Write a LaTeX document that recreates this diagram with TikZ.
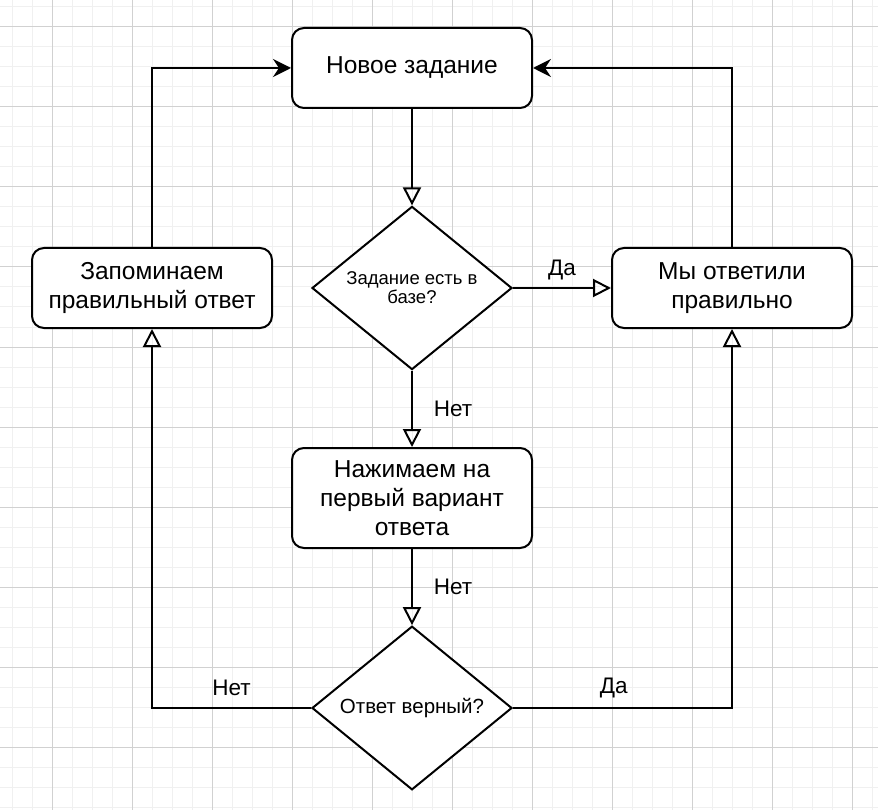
\documentclass[tikz,border=0pt]{standalone}
\usepackage{fontspec}
\setmainfont{Liberation Sans}
\usetikzlibrary{shapes.geometric,arrows.meta}

\begin{document}
\begin{tikzpicture}[x=1pt,y=-1pt,
    minor/.style={draw=black!6, line width=1pt},
    major/.style={draw=black!18, line width=1pt},
    link/.style={draw, line width=2pt, -{Triangle[open, length=18pt, width=18pt]}},
    back/.style={draw, line width=2pt, -{Stealth[length=18pt, width=18pt, inset=6pt]}}]

        \useasboundingbox (0,0) rectangle (878,810);
        \fill[white] (0,0) rectangle (878,810);
        \foreach \x in {12,32,...,872} \draw[minor] (\x,0) -- (\x,810);
        \foreach \y in {7,27,...,807} \draw[minor] (0,\y) -- (878,\y);
        \foreach \x in {52,132,...,852} \draw[major] (\x,0) -- (\x,810);
        \foreach \y in {27,107,...,747} \draw[major] (0,\y) -- (878,\y);

        \begin{scope}[every node/.style={draw, fill=white, line width=2pt, align=center, inner sep=0pt}]
          \begin{scope}[every node/.append style={rectangle, rounded corners=12pt, minimum width=240pt, minimum height=80pt, font=\fontsize{24.5}{28.7}\selectfont}]
            \node (1)  at (412,68) {Новое задание};
            \node (3)  at (732,288) {Мы ответили\\правильно};
            \node (4)  at (152,288) {Запоминаем\\правильный ответ};
            \node[minimum height=100pt] (5)  at (412,498) {Нажимаем на\\первый вариант\\ответа};
          \end{scope}
          \begin{scope}[every node/.append style={diamond, minimum width=200pt, minimum height=160pt}]
            \node[font=\fontsize{18.5}{19}\selectfont] (2)  at (412,288) {Задание есть в\\базе?};
            \node[font=\fontsize{20.5}{24}\selectfont] (6)  at (412,708) {Ответ верный?};
          \end{scope}
        \end{scope}

        \begin{scope}[every node/.style={font=\fontsize{22.5}{26}\selectfont, inner sep=0pt}]

          \begin{scope}[every edge/.style={link}]
            \path (1)  edge (2);
            \path (2)  edge node[yshift=18pt] {Да} (3);
            \path (2)  edge node[xshift=41pt] {Нет} (5);
            \path (5)  edge node[xshift=41pt] {Нет} (6);
          \end{scope}
          \draw[link] (6.east) -| node[pos=.23, yshift=20pt] {Да} (3);
          \draw[link] (6.west) -| node[pos=.25, yshift=20pt] {Нет} (4);
          \draw[back] (4) |- (1);
          \draw[back] (3) |- (1);
        \end{scope}

      \end{tikzpicture}
\end{document}
